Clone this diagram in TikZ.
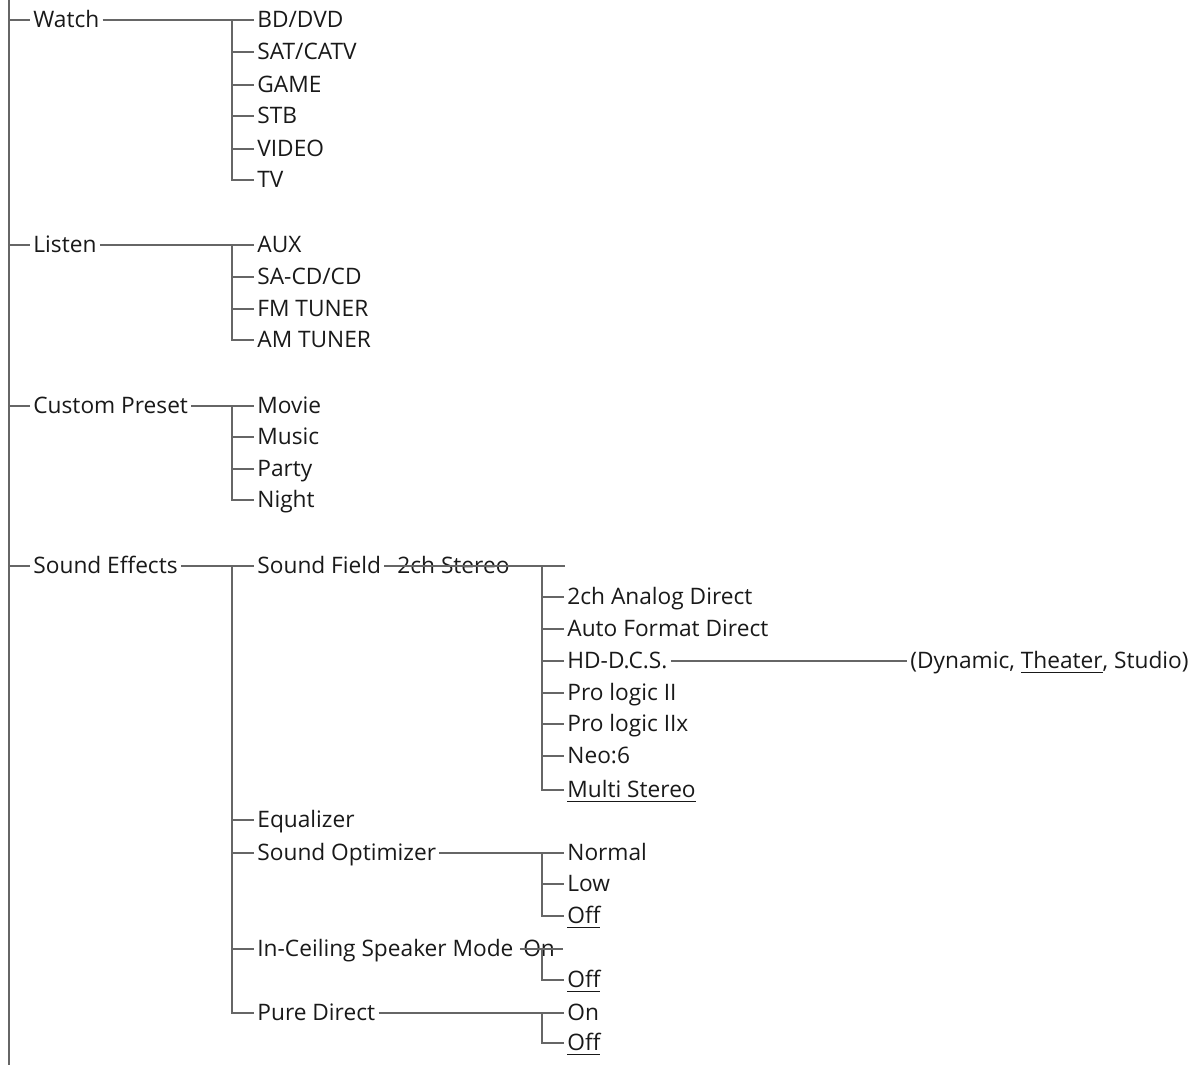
\documentclass[tikz,border=0pt]{standalone}
\usepackage{fontspec}
\setmainfont{Open Sans}
\usepackage{tikz}
\usetikzlibrary{positioning}

\begin{document}
\begin{tikzpicture}[x=0.5pt, y=-0.5pt,
item/.style={anchor=west, inner xsep=1.5pt, inner ysep=0pt, text height=7.9pt, text depth=0pt,
  font=\fontsize{11.35}{13}\selectfont, text=black!90},
wire/.style={draw=black!60, line width=0.9pt},
]
\useasboundingbox (0,0) rectangle (1195,1065);

% trunk and buses
\coordinate (top) at (9,0);
\coordinate (bottom) at (9,1065);
\coordinate (busA) at (232,0);
\coordinate (busB) at (542,0);

% first level
\node (watch) [item] at (30,20) {Watch};
\node (listen) [item] at (30,245) {Listen};
\node (custom) [item] at (30,406) {Custom Preset};
\node (effects) [item] at (30,566) {Sound Effects};

% watch
\node (bddvd) [item] at (254,20) {BD/DVD};
\node (satcatv) [item] at (254,52) {SAT/CATV};
\node (game) [item] at (254,85) {GAME};
\node (stb) [item] at (254,116) {STB};
\node (video) [item] at (254,149) {VIDEO};
\node (tv) [item] at (254,180) {TV};

% listen
\node (aux) [item] at (254,245) {AUX};
\node (sacd) [item] at (254,277) {SA-CD/CD};
\node (fm) [item] at (254,309) {FM TUNER};
\node (am) [item] at (254,340) {AM TUNER};

% custom preset
\node (movie) [item] at (254,406) {Movie};
\node (music) [item] at (254,437) {Music};
\node (party) [item] at (254,469) {Party};
\node (night) [item] at (254,500) {Night};

% sound effects
\node (field) [item] at (254,566) {Sound Field};
\node (stereo) [item] at (394,566) {2ch Stereo};
\node (eq) [item] at (254,820) {Equalizer};
\node (optim) [item] at (254,853) {Sound Optimizer};
\node (ceiling) [item] at (254,949) {In-Ceiling Speaker Mode};
\node (ceilon) [item, right=1.5pt of ceiling] {On};
\node (pure) [item] at (254,1013) {Pure Direct};

% sound field
\coordinate (fieldend) at (565,566);
\node (analog) [item] at (564,597) {2ch Analog Direct};
\node (auto) [item] at (564,629) {Auto Format Direct};
\node (hdcs) [item] at (564,661) {HD-D.C.S.};
\node (hdmode) [item] at (907,661) {(Dynamic, \underline{Theater}, Studio)};
\node (plii) [item] at (564,693) {Pro logic II};
\node (pliix) [item] at (564,724) {Pro logic IIx};
\node (neo) [item] at (564,756) {Neo:6};
\node (multi) [item] at (564,790) {\underline{Multi Stereo}};

% sound optimizer
\node (normal) [item] at (564,853) {Normal};
\node (low) [item] at (564,884) {Low};
\node (optoff) [item] at (564,916) {\underline{Off}};

% in-ceiling
\coordinate (ceilend) at (563,949);
\node (ceiloff) [item] at (564,980) {\underline{Off}};

% pure direct
\node (pureon) [item] at (564,1013) {On};
\node (pureoff) [item] at (564,1043) {\underline{Off}};

% connectors
\draw[wire] (top) -- (bottom);
\foreach \n in {watch,listen,custom,effects}
  \draw[wire] (top |- \n.west) -- (\n.west);

\draw[wire] (watch) -- (bddvd);
\draw[wire] (listen) -- (aux);
\draw[wire] (custom) -- (movie);
\draw[wire] (effects) -- (field);
\draw[wire] (field) -- (fieldend);
\draw[wire] (optim) -- (normal);
\draw[wire] (ceilon.west) -- (ceilend);
\draw[wire] (pure) -- (pureon);
\draw[wire] (hdcs) -- (hdmode);

\draw[wire] (busA |- bddvd.west) |- (tv.west);
\draw[wire] (busA |- aux.west) |- (am.west);
\draw[wire] (busA |- movie.west) |- (night.west);
\draw[wire] (busA |- field.west) |- (pure.west);
\draw[wire] (busB |- fieldend) |- (multi.west);
\draw[wire] (busB |- normal.west) |- (optoff.west);
\draw[wire] (busB |- ceilend) |- (ceiloff.west);
\draw[wire] (busB |- pureon.west) |- (pureoff.west);

\foreach \n in {satcatv,game,stb,video,sacd,fm,music,party,eq,optim,ceiling}
  \draw[wire] (busA |- \n.west) -- (\n.west);
\foreach \n in {analog,auto,hdcs,plii,pliix,neo,low}
  \draw[wire] (busB |- \n.west) -- (\n.west);

\end{tikzpicture}
\end{document}
